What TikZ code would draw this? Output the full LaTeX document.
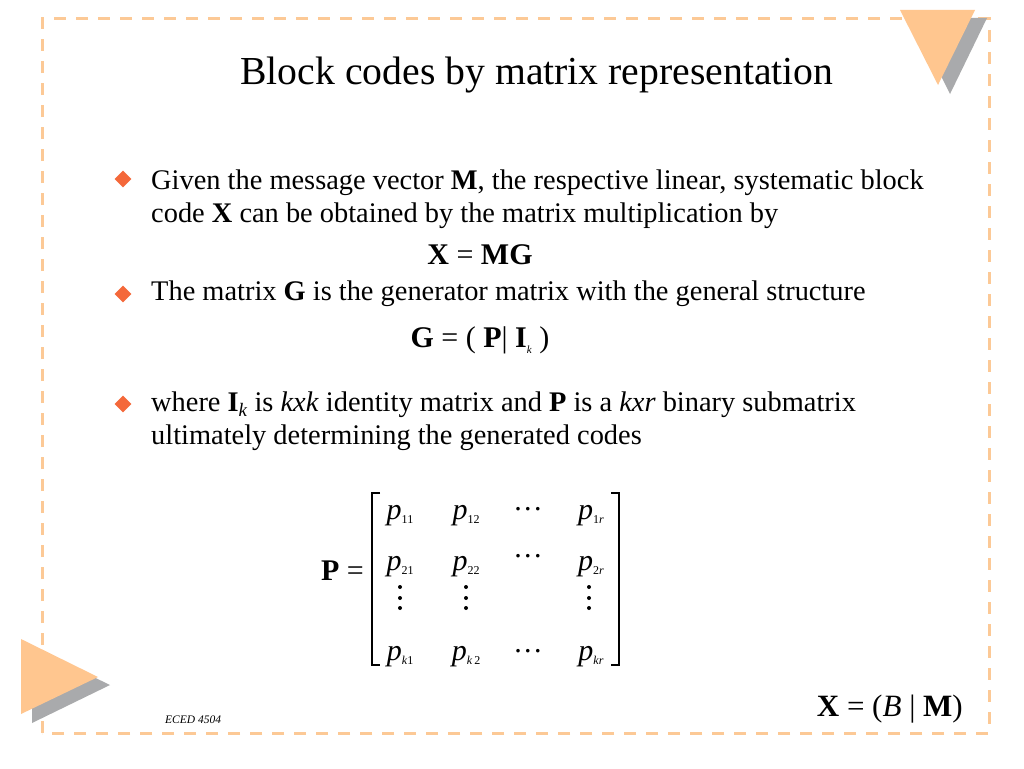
\documentclass[tikz,border=0pt]{standalone}
\usepackage{fontspec}
\setmainfont{Liberation Serif}
\usetikzlibrary{shapes.geometric}
\definecolor{framecol}{HTML}{FCC996}
\definecolor{tricol}{HTML}{FFC68F}
\definecolor{shadecol}{HTML}{A9AAAC}
\definecolor{bulletcol}{HTML}{F4683A}
\newcommand{\pent}[1]{\textit{p}\raisebox{-0.35ex}{\fontsize{12}{12}\selectfont #1}}
\newcommand{\hdots}{.\kern2.5pt.\kern2.5pt.}

\begin{document}
\begin{tikzpicture}[x=1pt,y=-1pt]
                        \tikzstyle{frame}=[draw=framecol,line width=3pt,dash pattern=on 12pt off 10pt]
                        \tikzstyle{bullet}=[diamond,fill=bulletcol,inner sep=0pt,minimum size=17pt]
                        \tikzstyle{body}=[anchor=base west,inner sep=0pt,font=\fontsize{28.4}{33}\selectfont]
                        \tikzstyle{formula}=[anchor=base,inner sep=0pt,font=\fontsize{30}{30}\selectfont]
                        \tikzstyle{entry}=[anchor=base,inner sep=0pt,font=\fontsize{30}{30}\selectfont]
                        \useasboundingbox[fill=white] (0,0) rectangle (1024,768);
                        % dashed frame
                        \draw[frame] (42,733) -- (42,19) -- (989,19) -- (989,733) -- cycle;
                        % corner triangles
                        \fill[shadecol] (912,18) -- (987,18) -- (950,94) -- cycle;
                        \fill[tricol] (900,10) -- (975,10) -- (938,85) -- cycle;
                        \fill[shadecol] (32,647) -- (110,685) -- (32,723) -- cycle;
                        \fill[tricol] (21,639) -- (98,677) -- (21,714) -- cycle;
                        % title
                        \node[anchor=base,inner sep=0pt,font=\fontsize{39.7}{40}\selectfont] (title) at (537,84) {Block codes by matrix representation};
                        % bullets
                        \node[bullet] (b1) at (123,179) {};
                        \node[body] (l1) at (151,189) {Given the message vector \textbf{M}, the respective linear, systematic block};
                        \node[body] (l2) at (151,222) {code \textbf{X} can be obtained by the matrix multiplication by};
                        \node[formula] (xmg) at (480,264) {\textbf{X} = \textbf{MG}};
                        \node[bullet] (b2) at (123,294) {};
                        \node[body] (l3) at (151,300) {The matrix \textbf{G} is the generator matrix with the general structure};
                        \node[formula] (gpi) at (480,347) {\textbf{G} = ( \textbf{P}| \textbf{I}\raisebox{-0.5ex}{\fontsize{11}{11}\selectfont\textit{k}} )};
                        \node[bullet] (b3) at (123,404) {};
                        \node[body] (l4) at (151,411) {where \textbf{I}\raisebox{-0.4ex}{\textit{\fontsize{19}{19}\selectfont k}} is \textit{kxk} identity matrix and \textbf{P} is a \textit{kxr} binary submatrix};
                        \node[body] (l5) at (151,444) {ultimately determining the generated codes};
                        % matrix P
                        \node[anchor=base east,inner sep=0pt,font=\fontsize{30}{30}\selectfont] (peq) at (364,580) {\textbf{P} =};
                        \node[entry] (p11) at (400,519) {\pent{11}};
                        \node[entry] (p12) at (466,519) {\pent{12}};
                        \node[entry] (c1) at (528,510) {\hdots};
                        \node[entry] (p1r) at (591,519) {\pent{1\textit{r}}};
                        \node[entry] (p21) at (400,570) {\pent{21}};
                        \node[entry] (p22) at (466,570) {\pent{22}};
                        \node[entry] (c2) at (528,557) {\hdots};
                        \node[entry] (p2r) at (591,570) {\pent{2\textit{r}}};
                        \node[entry] (pk1) at (400,660) {\pent{\textit{k}1}};
                        \node[entry] (pk2) at (466,660) {\pent{\textit{k}\,2}};
                        \node[entry] (ck) at (528,652) {\hdots};
                        \node[entry] (pkr) at (591,660) {\pent{\textit{kr}}};
                        % vertical dots
                        \foreach \x in {400,466,589}
                            \foreach \y in {587,598,608}
                                \fill (\x,\y) circle (2pt);
                        \draw[line width=1.2pt] (380,493) -- (372,493) -- (372,665) -- (380,665);
                        \draw[line width=1.2pt] (611,493) -- (619,493) -- (619,665) -- (611,665);
                        % footer
                        \node[anchor=base west,inner sep=0pt,font=\fontsize{11.5}{11.5}\selectfont\itshape] (eced) at (165,723) {ECED 4504};
                        \node[formula,anchor=base east,font=\fontsize{31}{31}\selectfont] (xbm) at (963,716) {\textbf{X} = (\textit{B} | \textbf{M})};
                    \end{tikzpicture}
\end{document}
